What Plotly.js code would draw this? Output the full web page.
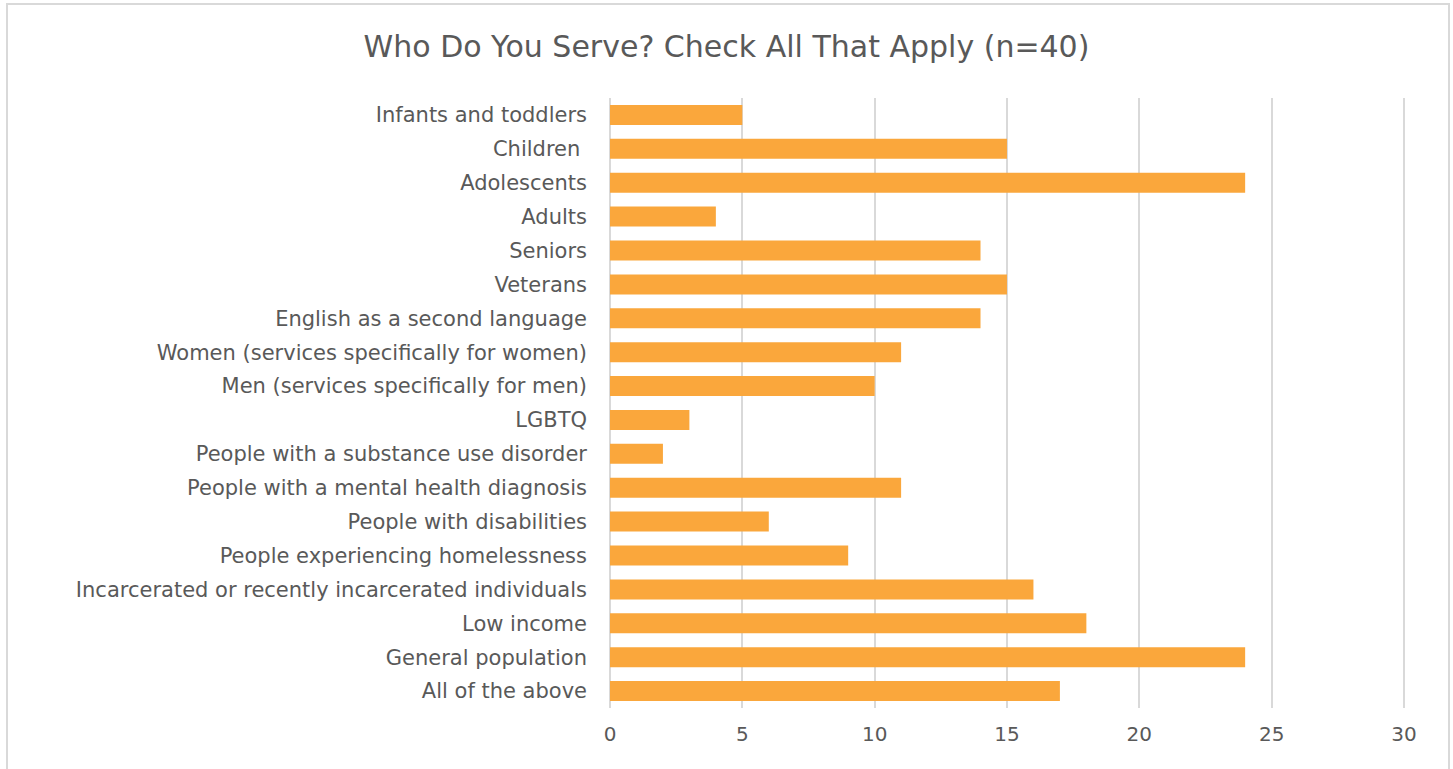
<!DOCTYPE html>
<html>
<head>
<meta charset="utf-8">
<script src="https://cdn.plot.ly/plotly-3.0.1.min.js"></script>
<style>
html,body{margin:0;padding:0;background:#fff;}
#chart{position:absolute;left:0;top:0;width:1453px;height:769px;}
#frame{position:absolute;left:6px;top:3px;width:1440px;height:790px;border:2px solid #d9d9d9;pointer-events:none;}
</style>
</head>
<body>
<div id="chart"></div>
<div id="frame"></div>
<script>
const categories = [
  "Infants and toddlers",
  "Children ",
  "Adolescents",
  "Adults",
  "Seniors",
  "Veterans",
  "English as a second language",
  "Women (services specifically for women)",
  "Men (services specifically for men)",
  "LGBTQ",
  "People with a substance use disorder",
  "People with a mental health diagnosis",
  "People with disabilities",
  "People experiencing homelessness",
  "Incarcerated or recently incarcerated individuals",
  "Low income",
  "General population",
  "All of the above"
];
const counts = [5, 15, 24, 4, 14, 15, 14, 11, 10, 3, 2, 11, 6, 9, 16, 18, 24, 17];
const xTicks = [0, 5, 10, 15, 20, 25, 30];
const chartTitle = "Who Do You Serve? Check All That Apply (n=40)";

const fontFam = "DejaVu Sans, sans-serif";
const textColor = "#595959";

const trace = {
  type: "bar",
  orientation: "h",
  x: counts,
  y: categories,
  marker: {color: "#FAA73C"},
  hoverinfo: "x+y"
};

const layout = {
  width: 1453,
  height: 769,
  margin: {l: 610, r: 48, t: 98, b: 61},
  paper_bgcolor: "#ffffff",
  plot_bgcolor: "#ffffff",
  bargap: 0.41,
  showlegend: false,
  title: {
    text: chartTitle,
    font: {family: fontFam, size: 30, color: textColor},
    x: 0.5, xanchor: "center",
    y: 0.94, yanchor: "middle"
  },
  xaxis: {
    range: [0, 30.04],
    tickvals: xTicks,
    showgrid: true,
    gridcolor: "#d9d9d9",
    gridwidth: 2,
    zeroline: true,
    zerolinecolor: "#d9d9d9",
    zerolinewidth: 2,
    showline: false,
    ticks: "",
    ticklabelstandoff: 12,
    tickfont: {family: fontFam, size: 20, color: textColor},
    fixedrange: true
  },
  yaxis: {
    type: "category",
    autorange: "reversed",
    showgrid: false,
    zeroline: false,
    showline: false,
    ticks: "",
    ticklabelstandoff: 22,
    tickfont: {family: fontFam, size: 21, color: textColor},
    fixedrange: true
  }
};

Plotly.newPlot("chart", [trace], layout, {displayModeBar: false, staticPlot: true});
</script>
</body>
</html>
